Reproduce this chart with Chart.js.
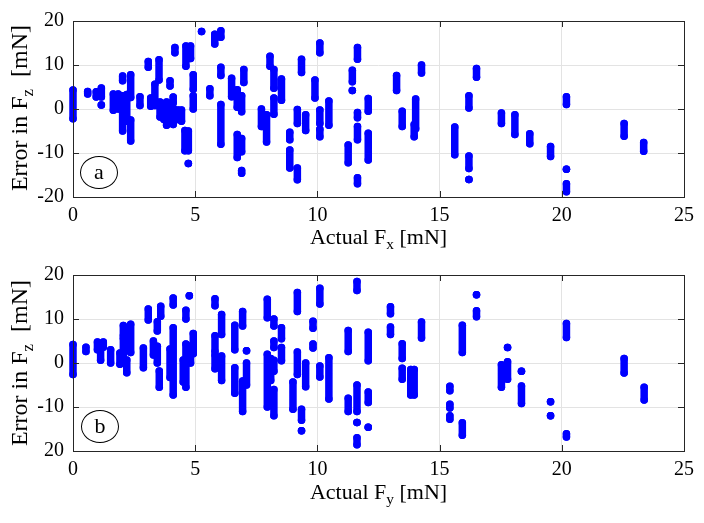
<!DOCTYPE html>
<html>
<head>
<meta charset="utf-8">
<script src="https://cdn.jsdelivr.net/npm/chart.js@4/dist/chart.umd.min.js"></script>
<style>
  html, body { margin: 0; padding: 0; background: #fff; }
  #wrap { position: relative; width: 704px; height: 523px; overflow: hidden; font-family: 'Liberation Serif', 'Times New Roman', serif; color: #000; }
  .cv { position: absolute; left: 0; width: 704px; height: 250px; }
  .xt { position: absolute; left: 73px; width: 611px; text-align: center; font-size: 22px; line-height: 26px; }
  .yt { position: absolute; width: 300px; height: 26px; line-height: 26px; text-align: center; font-size: 24px; transform: rotate(-90deg); white-space: nowrap; }
  sub { font-size: 70%; vertical-align: -0.35em; line-height: 0; }
  .tag { position: absolute; width: 36px; height: 31px; border: 1.5px solid #000; border-radius: 50%; text-align: center; line-height: 30px; font-size: 22px; }
</style>
</head>
<body>
<div id="wrap">
  <canvas id="chartFx" class="cv" width="704" height="250" style="top:0"></canvas>
  <canvas id="chartFy" class="cv" width="704" height="250" style="top:254px"></canvas>
  <div class="xt" style="top:224px">Actual F<sub>x</sub> [mN]</div>
  <div class="xt" style="top:479px">Actual F<sub>y</sub> [mN]</div>
  <div class="yt" style="left:-131px; top:95px">Error in F<sub>z</sub>&nbsp; [mN]</div>
  <div class="yt" style="left:-131px; top:350px">Error in F<sub>z</sub>&nbsp; [mN]</div>
  <div class="tag" style="left:80px; top:156px">a</div>
  <div class="tag" style="left:81px; top:410px">b</div>
</div>
<script>
// ─────────────────────────────────────────────
// DATA – each entry is one vertical cluster of samples
// (actual force, lowest error, highest error)
// ─────────────────────────────────────────────
const xTicks = [0, 5, 10, 15, 20, 25];
const yTicks = [-20, -10, 0, 10, 20];

// subplot a : error in Fz vs actual Fx
const fxX  = [0.0, 0.6, 0.95, 1.16, 1.16, 1.65, 1.85, 2.03, 2.03, 2.2, 2.36, 2.36, 2.74, 3.08, 3.18, 3.35, 3.52, 3.56, 3.72, 3.83,
              3.97, 3.97, 4.1, 4.1, 4.17, 4.3, 4.44, 4.58, 4.62, 4.72, 4.72, 4.81, 4.92, 4.92, 5.26, 5.6, 5.8, 6.05, 6.05, 6.05,
              6.49, 6.72, 6.72, 6.9, 6.9, 6.9, 6.99, 7.71, 7.92, 8.06, 8.22, 8.22, 8.53, 8.87, 8.87, 9.18, 9.18, 9.35, 9.52, 9.9,
              10.1, 10.1, 10.1, 10.47, 11.26, 11.43, 11.43, 11.64, 11.64, 11.64, 11.64, 12.08, 12.08, 13.24, 13.47, 14.02, 13.96, 14.26, 15.62, 16.2,
              16.2, 16.2, 16.51, 17.53, 18.08, 18.69, 19.54, 20.19, 20.19, 20.19, 22.55, 23.35];
const fxLo = [-2.2, 3.4, 2.7, 2.7, 0.9, -0.3, 0.0, 6.4, -5.0, -2.8, 2.6, -7.3, 0.8, 9.5, 0.6, 0.8, 6.6, -1.8, -2.4, -3.7,
              5.2, -2.4, 1.4, -3.5, 12.8, -2.4, -2.8, -9.5, 9.7, -9.5, -12.4, 11.5, 4.5, 0.0, 17.6, 3.0, 14.8, 16.3, 7.6, -8.0,
              2.8, 0.4, -11.0, -0.6, -9.7, -14.6, 6.0, -4.0, -7.5, 9.7, 4.7, -1.2, 2.0, -7.0, -13.4, -3.3, -16.1, 8.3, -4.9, 2.5,
              12.8, -3.3, -6.3, -3.7, -12.2, 6.2, 4.2, 11.3, -2.0, -7.0, -17.0, -0.5, -11.6, 4.2, -4.0, -4.5, -6.3, 8.2, -10.4, 0.2,
              -13.5, -16.0, 7.2, -3.3, -5.8, -7.9, -10.8, 1.0, -13.7, -18.8, -6.2, -9.6];
const fxHi = [4.3, 4.0, 3.9, 4.8, 0.9, 3.4, 3.4, 7.5, 3.0, 3.3, 7.8, -2.5, 2.8, 10.8, 2.5, 5.6, 11.2, 1.6, 0.9, 1.6,
              6.4, 0.4, 2.7, 0.2, 14.0, -0.2, -0.2, -4.9, 14.3, -5.0, -12.4, 14.3, 7.8, 3.0, 17.6, 4.6, 17.0, 17.8, 9.5, 1.0,
              7.0, 4.4, -5.8, 3.0, -6.7, -14.0, 9.0, 0.0, -1.3, 12.0, 9.0, 2.5, 6.8, -5.3, -9.3, -0.1, -13.4, 11.3, -1.3, 6.6,
              15.0, -0.2, -4.6, 1.8, -8.2, 8.8, 4.2, 14.0, -0.8, -4.0, -15.6, 2.4, -5.5, 7.6, -0.5, 2.3, -3.5, 10.0, -4.1, 3.0,
              -10.7, -16.0, 9.2, -0.9, -1.3, -5.6, -8.5, 2.8, -13.7, -17.0, -3.3, -7.6];

// subplot b : error in Fz vs actual Fy
const fyX  = [0.0, 0.53, 1.0, 1.13, 1.24, 1.54, 1.92, 2.06, 2.06, 2.2, 2.36, 2.88, 3.08, 3.29, 3.45, 3.45, 3.53, 3.59, 3.97, 4.1,
              4.1, 4.51, 4.62, 4.62, 4.76, 4.81, 4.92, 5.81, 5.81, 5.81, 6.08, 6.08, 6.62, 6.62, 6.94, 6.94, 7.1, 7.1, 7.95, 7.95,
              8.09, 8.22, 8.22, 8.22, 8.22, 8.53, 8.53, 9.0, 9.18, 9.18, 9.35, 9.35, 9.52, 9.82, 9.82, 10.1, 10.1, 10.47, 11.26, 11.26,
              11.62, 11.62, 11.62, 11.62, 12.08, 12.08, 12.08, 12.99, 12.99, 13.47, 13.47, 13.82, 13.96, 14.26, 15.42, 15.42, 15.42, 15.93, 15.93, 16.51,
              16.51, 17.53, 17.78, 17.78, 18.35, 18.35, 19.54, 19.54, 20.19, 20.19, 22.55, 23.37];
const fyLo = [-2.6, 2.6, 3.0, 0.6, 3.6, 0.0, -0.3, 6.2, 0.3, -2.2, 2.4, -1.1, 9.8, 1.8, 7.3, 0.0, -5.5, 10.6, -3.3, 13.2,
              -7.3, -4.3, 10.0, -5.5, 15.3, 0.0, 2.1, 13.0, 2.6, -1.3, 6.5, -4.0, 3.0, -6.9, 8.4, -11.0, 2.8, -5.0, 10.3, -10.0,
              -4.0, 8.4, 3.5, -1.9, -12.0, 5.5, 0.5, -10.5, 11.7, -2.6, -13.0, -15.4, -5.4, 7.9, 3.4, 13.4, -3.2, -8.2, 2.6, -11.0,
              16.5, -11.0, -13.5, -18.6, 0.5, -9.0, -14.6, 11.2, 6.5, 1.0, -3.7, -7.3, -7.3, 5.7, -6.3, -10.2, -12.8, 2.4, -16.4, 15.5,
              10.5, -5.5, 3.5, -3.7, -1.9, -9.2, -8.8, -12.0, 5.8, -16.8, -2.3, -8.4];
const fyHi = [4.2, 3.6, 4.8, 3.3, 4.8, 3.0, 2.3, 8.5, 5.6, 0.7, 8.8, 3.4, 12.3, 5.0, 9.4, 3.8, -1.8, 12.9, 3.2, 14.8,
              8.0, 0.7, 12.0, 4.3, 15.3, 3.5, 6.7, 14.6, 6.2, 1.8, 11.0, 1.6, 8.6, -1.1, 11.7, -4.1, 2.8, 0.0, 14.5, 2.0,
              1.0, 10.0, 5.0, 0.6, -6.0, 8.0, 3.5, -4.3, 16.0, 2.5, -10.5, -15.4, 0.0, 9.5, 4.3, 17.0, -0.7, 1.2, 7.4, -8.0,
              18.5, -5.0, -13.5, -17.0, 7.0, -6.6, -14.6, 12.8, 8.2, 4.4, -1.2, -1.5, -1.5, 9.3, -5.3, -9.4, -12.0, 8.6, -13.6, 15.5,
              11.9, -0.4, 3.5, 0.3, -1.9, -5.2, -8.8, -12.0, 9.0, -16.1, 1.0, -5.5];

// ─────────────────────────────────────────────
// HELPERS
// ─────────────────────────────────────────────
const BLUE = '#0000ff';
const FONT = "'Liberation Serif', 'Times New Roman', serif";

// each cluster becomes a short segment; null y breaks the line between clusters
function buildColumns(xs, lo, hi) {
  const pts = [];
  for (let i = 0; i < xs.length; i++) {
    pts.push({ x: xs[i], y: lo[i] });
    pts.push({ x: xs[i], y: hi[i] });
    pts.push({ x: xs[i], y: null });
  }
  return pts;
}

// MATLAB style box with inward ticks
const boxPlugin = {
  id: 'box',
  afterDraw(chart) {
    const { ctx, chartArea: a, scales } = chart;
    ctx.save();
    ctx.strokeStyle = '#262626';
    ctx.lineWidth = 1;
    ctx.beginPath();
    xTicks.forEach(v => {
      const p = Math.round(scales.x.getPixelForValue(v)) + 0.5;
      ctx.moveTo(p, a.bottom); ctx.lineTo(p, a.bottom - 6);
      ctx.moveTo(p, a.top); ctx.lineTo(p, a.top + 6);
    });
    yTicks.forEach(v => {
      const p = Math.round(scales.y.getPixelForValue(v)) + 0.5;
      ctx.moveTo(a.left, p); ctx.lineTo(a.left + 6, p);
      ctx.moveTo(a.right, p); ctx.lineTo(a.right - 6, p);
    });
    ctx.stroke();
    ctx.strokeRect(Math.round(a.left) + 0.5, Math.round(a.top) + 0.5,
                   Math.round(a.right - a.left), Math.round(a.bottom - a.top));
    ctx.restore();
  }
};

function makeChart(id, data, yLabel) {
  const ctx = document.getElementById(id).getContext('2d');
  return new Chart(ctx, {
    type: 'scatter',
    data: {
      datasets: [{
        data: data,
        showLine: true,
        spanGaps: false,
        borderColor: BLUE,
        borderWidth: 7.5,
        borderCapStyle: 'round',
        pointRadius: 3.75,
        pointBackgroundColor: BLUE,
        pointBorderWidth: 0,
        clip: 4
      }]
    },
    options: {
      responsive: false,
      animation: false,
      events: [],
      devicePixelRatio: 1,
      layout: { padding: { top: 14, right: 20, left: 0, bottom: 0 } },
      scales: {
        x: {
          type: 'linear', min: 0, max: 25,
          afterBuildTicks: s => { s.ticks = xTicks.map(v => ({ value: v })); },
          afterFit: s => { s.height = 53; },
          grid: { color: '#e3e3e3', drawTicks: false },
          border: { display: false },
          ticks: { color: '#000', padding: 7, font: { family: FONT, size: 20 } }
        },
        y: {
          type: 'linear', min: -20, max: 20,
          afterBuildTicks: s => { s.ticks = yTicks.map(v => ({ value: v })); },
          afterFit: s => { s.width = 73; },
          grid: { color: '#e3e3e3', drawTicks: false },
          border: { display: false },
          ticks: { color: '#000', padding: 9, font: { family: FONT, size: 20 }, callback: yLabel }
        }
      },
      plugins: { legend: { display: false }, tooltip: { enabled: false } }
    },
    plugins: [boxPlugin]
  });
}

// lower plot prints its bottom tick without the minus sign, as in the figure
makeChart('chartFx', buildColumns(fxX, fxLo, fxHi), v => String(v));
makeChart('chartFy', buildColumns(fyX, fyLo, fyHi), v => (v === -20 ? '20' : String(v)));
</script>
</body>
</html>
